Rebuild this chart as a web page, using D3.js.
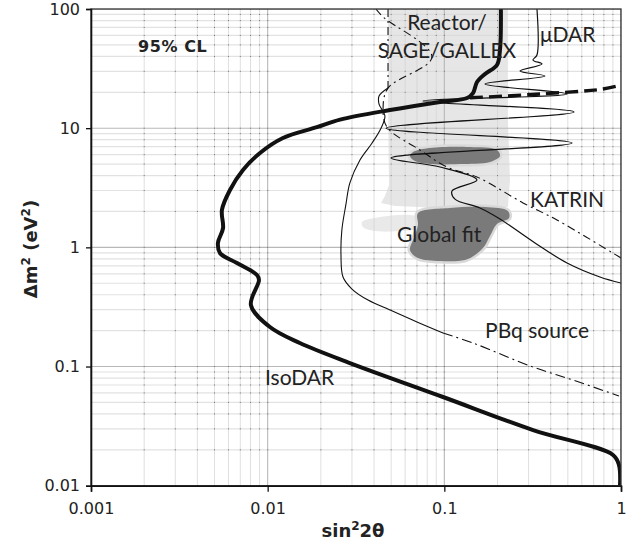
<!DOCTYPE html>
<html>
<head>
<meta charset="utf-8">
<script src="https://cdn.jsdelivr.net/npm/d3@7"></script>
<style>
  body { margin: 0; background: #fff; }
  svg { display: block; }
</style>
</head>
<body>
<div id="chart"></div>
<script>
// axis ticks
const xTicks = [0.001, 0.01, 0.1, 1];
const xTickLabels = ["0.001", "0.01", "0.1", "1"];
const yTicks = [0.01, 0.1, 1, 10, 100];
const yTickLabels = ["0.01", "0.1", "1", "10", "100"];

// curves, [sin^2 2theta, dm^2]
const isodar = [
  [0.209, 100], [0.2065, 45.3], [0.1986, 33.9], [0.170, 28.5], [0.1531, 24.4],
  [0.1453, 19.7], [0.1344, 17.9], [0.0945, 16.6], [0.0492, 14.2], [0.0257, 11.8],
  [0.0190, 10.2], [0.0122, 8.27], [0.00905, 6.19], [0.00725, 4.46], [0.00612, 3.03],
  [0.00551, 2.06], [0.00559, 1.45], [0.00523, 1.09], [0.00537, 0.896], [0.0067, 0.739],
  [0.0087, 0.586], [0.00893, 0.532], [0.00804, 0.328], [0.0103, 0.2145],
  [0.0152, 0.1575], [0.0292, 0.107], [0.0983, 0.0555], [0.318, 0.0293], [0.901, 0.0181],
  [0.974, 0.0149], [0.987, 0.01]
];
const isodarHigh = [[0.14, 18.0], [0.348, 19.35], [0.791, 21.3], [1, 23.0]];

const mudar = [
  [0.3345, 100], [0.3345, 41.1], [0.3176, 37.3], [0.357, 34.6], [0.268, 30.2],
  [0.371, 27.4], [0.170, 23.5], [0.495, 19.35], [0.0757, 16.9], [0.542, 13.7],
  [0.0468, 10.0], [0.528, 7.51], [0.0499, 5.62], [0.0945, 4.72], [0.153, 3.67],
  [0.1105, 2.97], [0.1149, 2.54], [0.159, 2.14], [0.2065, 1.73], [0.326, 1.09],
  [0.495, 0.739], [0.760, 0.564], [1, 0.502]
];

const pbqTop = [[0.048, 100], [0.048, 21.7]];
const pbqMid = [
  [0.048, 21.7], [0.0427, 18.6], [0.0427, 15.95], [0.0461, 12.65], [0.0438, 10.0],
  [0.039, 7.51], [0.0333, 5.41], [0.0292, 3.47], [0.0277, 2.27], [0.0263, 1.40],
  [0.026, 0.862], [0.0267, 0.564], [0.030, 0.447], [0.037, 0.361], [0.0492, 0.298],
  [0.070, 0.2363], [0.0983, 0.191]
];
const pbqLow = [[0.0983, 0.191], [0.1453, 0.1575], [0.3176, 0.099], [0.535, 0.077], [0.974, 0.0566]];

const katrin = [
  [1, 0.814], [0.434, 1.696], [0.2788, 2.36], [0.1531, 3.89], [0.1035, 4.72],
  [0.0728, 6.56], [0.0474, 10.2], [0.045, 14.8], [0.048, 21.7], [0.0851, 39.6],
  [0.045, 85.7], [0.041, 100]
];

// allowed regions
const reactorBand = [
  [0.048, 100], [0.229, 100], [0.229, 11.7], [0.2353, 3.67], [0.229, 2.18],
  [0.1397, 1.98], [0.0728, 2.18], [0.0526, 2.22], [0.0438, 2.36], [0.0461, 2.70],
  [0.0486, 3.34], [0.048, 17.2]
];
const globalFitPale = [
  [0.0342, 1.63], [0.0432, 1.80], [0.0639, 1.87], [0.0777, 1.73],
  [0.0728, 1.45], [0.0561, 1.37], [0.0405, 1.37], [0.0346, 1.48]
];
const globalFitUpper = [
  [0.0665, 6.31], [0.0829, 6.82], [0.1397, 6.95], [0.1986, 6.56], [0.2065, 5.84],
  [0.1813, 5.20], [0.1227, 5.00], [0.0829, 5.00], [0.0682, 5.30], [0.0639, 5.84]
];
const globalFitLower = [
  [0.0709, 1.94], [0.1076, 2.14], [0.170, 2.18], [0.229, 2.02], [0.2323, 1.76],
  [0.1986, 1.57], [0.1813, 1.245], [0.1677, 1.01], [0.1491, 0.862], [0.1309, 0.783],
  [0.0945, 0.768], [0.0709, 0.814], [0.0639, 0.95], [0.0673, 1.20], [0.0709, 1.54]
];

// annotation text, anchored in data space
const notes = [
  { text: "Reactor/", x: 0.1035, y: 66.7, anchor: "middle" },
  { text: "SAGE/GALLEX", x: 0.1035, y: 38.8, anchor: "middle" },
  { text: "\u03bcDAR", x: 0.348, y: 52.9, anchor: "start" },
  { text: "KATRIN", x: 0.3054, y: 2.18, anchor: "start" },
  { text: "Global fit", x: 0.054, y: 1.109, anchor: "start" },
  { text: "PBq source", x: 0.170, y: 0.1734, anchor: "start" },
  { text: "IsoDAR", x: 0.00966, y: 0.07, anchor: "start" }
];

const width = 641;
const height = 545;

const svg = d3.select("#chart")
  .append("svg")
  .attr("width", width)
  .attr("height", height)
  .style("font-family", "'DejaVu Sans', Verdana, sans-serif");

const x = d3.scaleLog().domain([0.001, 1]).range([91, 621]);
const y = d3.scaleLog().domain([0.01, 100]).range([485.7, 9]);

const [x0, x1] = x.range();
const [y0, y1] = y.range();

svg.append("clipPath").attr("id", "plot")
  .append("rect")
  .attr("x", x0).attr("y", y1)
  .attr("width", x1 - x0).attr("height", y0 - y1);

// grid values
const minorX = [], minorY = [];
[0.001, 0.01, 0.1].forEach(d => { for (let k = 2; k <= 9; k++) minorX.push(d * k); });
[0.01, 0.1, 1, 10].forEach(d => { for (let k = 2; k <= 9; k++) minorY.push(d * k); });

const plot = svg.append("g").attr("clip-path", "url(#plot)");

const line = d3.line().x(d => x(d[0])).y(d => y(d[1]));
const smooth = d3.line().x(d => x(d[0])).y(d => y(d[1])).curve(d3.curveCatmullRom.alpha(0.5));
const blob = d3.line().x(d => x(d[0])).y(d => y(d[1])).curve(d3.curveCatmullRomClosed.alpha(0.5));

// reactor band
plot.append("path")
  .attr("d", line(reactorBand) + "Z")
  .attr("fill", "#e6e6e6");

plot.append("path")
  .attr("d", blob(globalFitPale))
  .attr("fill", "#e9e9e9");

// grid
const grid = plot.append("g");
grid.selectAll(".hmin").data(minorY).enter().append("line")
  .attr("x1", x0).attr("x2", x1)
  .attr("y1", d => y(d)).attr("y2", d => y(d))
  .attr("stroke", "#d6d6d6").attr("stroke-opacity", 0.7).attr("stroke-width", 1.2);
grid.selectAll(".vmin").data(minorX).enter().append("line")
  .attr("y1", y1).attr("y2", y0)
  .attr("x1", d => x(d)).attr("x2", d => x(d))
  .attr("stroke", "#d4d4d4").attr("stroke-opacity", 0.75).attr("stroke-width", 1);
grid.selectAll(".hmaj").data(yTicks).enter().append("line")
  .attr("x1", x0).attr("x2", x1)
  .attr("y1", d => y(d)).attr("y2", d => y(d))
  .attr("stroke", "#b8b8b8").attr("stroke-width", 1.1);
grid.selectAll(".vmaj").data(xTicks).enter().append("line")
  .attr("y1", y1).attr("y2", y0)
  .attr("x1", d => x(d)).attr("x2", d => x(d))
  .attr("stroke", "#b8b8b8").attr("stroke-width", 1.1);

// small dots at every grid crossing
const dots = [];
minorX.concat(xTicks).forEach(a => minorY.concat(yTicks).forEach(b => dots.push([a, b])));
grid.selectAll(".dot").data(dots).enter().append("rect")
  .attr("x", d => x(d[0]) - 0.5).attr("y", d => y(d[1]) - 0.5)
  .attr("width", 1).attr("height", 1)
  .attr("fill", "#777");

// global fit regions
[globalFitUpper, globalFitLower].forEach(r => {
  plot.append("path")
    .attr("d", blob(r))
    .attr("fill", "#7a7a7a")
    .attr("stroke", "#d9d9d9")
    .attr("stroke-width", 5)
    .attr("stroke-linejoin", "round")
    .style("paint-order", "stroke");
});

// sensitivity curves
plot.append("path").attr("d", smooth(katrin))
  .attr("fill", "none").attr("stroke", "#111").attr("stroke-width", 1.1)
  .attr("stroke-dasharray", "8,4,2,4");

plot.append("path").attr("d", line(pbqTop))
  .attr("fill", "none").attr("stroke", "#111").attr("stroke-width", 1.1)
  .attr("stroke-dasharray", "8,4,2,4");
plot.append("path").attr("d", smooth(pbqMid))
  .attr("fill", "none").attr("stroke", "#111").attr("stroke-width", 1.1);
plot.append("path").attr("d", smooth(pbqLow))
  .attr("fill", "none").attr("stroke", "#111").attr("stroke-width", 1.1)
  .attr("stroke-dasharray", "10,4,2,4");

plot.append("path").attr("d", smooth(mudar))
  .attr("fill", "none").attr("stroke", "#111").attr("stroke-width", 1.2);

plot.append("path").attr("d", smooth(isodarHigh))
  .attr("fill", "none").attr("stroke", "#111").attr("stroke-width", 3.4)
  .attr("stroke-dasharray", "13,6");

plot.append("path").attr("d", smooth(isodar))
  .attr("fill", "none").attr("stroke", "#111").attr("stroke-width", 4)
  .attr("stroke-linejoin", "round");

// frame
svg.append("rect")
  .attr("x", x0).attr("y", y1)
  .attr("width", x1 - x0).attr("height", y0 - y1)
  .attr("fill", "none").attr("stroke", "#333").attr("stroke-width", 1.3);

// axes
const xAxis = svg.append("g")
  .attr("transform", `translate(0,${y0})`)
  .call(d3.axisBottom(x).tickValues(xTicks)
    .tickFormat((d, i) => xTickLabels[i]).tickSize(6).tickPadding(11));
const yAxis = svg.append("g")
  .attr("transform", `translate(${x0},0)`)
  .call(d3.axisLeft(y).tickValues(yTicks)
    .tickFormat((d, i) => yTickLabels[i]).tickSize(5).tickPadding(6));

[xAxis, yAxis].forEach(a => {
  a.select(".domain").attr("stroke", "#111").attr("stroke-width", 1.6);
  a.selectAll(".tick line").attr("stroke", "#111").attr("stroke-width", 1.3);
  a.selectAll(".tick text")
    .attr("fill", "#222")
    .style("font-size", "16px")
    .style("font-family", "'DejaVu Sans', Verdana, sans-serif");
});

// axis titles
const xt = svg.append("text")
  .attr("x", 353).attr("y", 537)
  .attr("text-anchor", "middle")
  .attr("font-weight", "bold").attr("font-size", 18).attr("fill", "#222");
xt.append("tspan").text("sin");
xt.append("tspan").attr("dy", -7).attr("font-size", 12).text("2");
xt.append("tspan").attr("dy", 7).text("2\u03b8");

const yt = svg.append("text")
  .attr("transform", "translate(37,249) rotate(-90)")
  .attr("text-anchor", "middle")
  .attr("font-weight", "bold").attr("font-size", 18).attr("fill", "#222");
yt.append("tspan").text("\u0394m");
yt.append("tspan").attr("dy", -7).attr("font-size", 12).text("2");
yt.append("tspan").attr("dy", 7).text(" (eV");
yt.append("tspan").attr("dy", -7).attr("font-size", 12).text("2");
yt.append("tspan").attr("dy", 7).text(")");

svg.append("text")
  .attr("x", x(0.001845)).attr("y", y(43.6))
  .attr("font-weight", "bold").attr("font-size", 16)
  .attr("letter-spacing", 0.6)
  .attr("fill", "#222")
  .text("95% CL");

svg.selectAll(".note").data(notes).enter().append("text")
  .attr("x", d => x(d.x)).attr("y", d => y(d.y))
  .attr("text-anchor", d => d.anchor)
  .style("font-family", "Lato, 'Open Sans', sans-serif")
  .attr("font-size", 21)
  .attr("fill", "#222")
  .text(d => d.text);
</script>
</body>
</html>
